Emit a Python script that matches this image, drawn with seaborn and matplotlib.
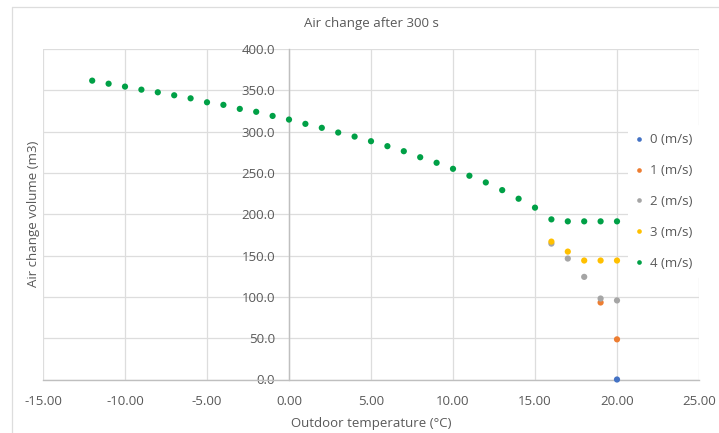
import matplotlib
matplotlib.use("Agg")
import matplotlib.pyplot as plt
from matplotlib.lines import Line2D
import numpy as np
import pandas as pd
import seaborn as sns

# ---- data ----
series_names = ["0 (m/s)", "1 (m/s)", "2 (m/s)", "3 (m/s)", "4 (m/s)"]

temp_0 = [20]
vol_0 = [0.0]

temp_1 = [19, 20]
vol_1 = [93.2, 48.6]

temp_2 = [16, 17, 18, 19, 20]
vol_2 = [164.5, 146.4, 124.2, 98.0, 95.7]

temp_3 = [16, 17, 18, 19, 20]
vol_3 = [166.9, 154.8, 144.0, 144.0, 144.0]

temp_4 = [-12, -11, -10, -9, -8, -7, -6, -5, -4, -3, -2, -1, 0, 1, 2, 3, 4,
          5, 6, 7, 8, 9, 10, 11, 12, 13, 14, 15, 16, 17, 18, 19, 20]
vol_4 = [361.7, 358.0, 354.5, 350.8, 347.6, 344.0, 340.3, 335.5, 332.4, 327.5,
         324.0, 319.0, 314.6, 309.4, 304.6, 298.9, 294.0, 288.4, 282.4, 276.3,
         269.0, 262.3, 255.0, 246.6, 238.5, 229.2, 218.8, 208.0, 193.8, 191.4,
         191.4, 191.4, 191.4]

x_ticks = [-15, -10, -5, 0, 5, 10, 15, 20, 25]
y_ticks = [0, 50, 100, 150, 200, 250, 300, 350, 400]

colors = ["#4472C4", "#ED7D31", "#A5A5A5", "#FFC000", "#00A046"]

frames = []
for name, t, v in zip(series_names,
                      [temp_0, temp_1, temp_2, temp_3, temp_4],
                      [vol_0, vol_1, vol_2, vol_3, vol_4]):
    frames.append(pd.DataFrame({"temp": t, "vol": v, "series": name}))
df = pd.concat(frames, ignore_index=True)

# ---- style ----
sns.set_style("white")
plt.rcParams["font.family"] = ["Open Sans", "DejaVu Sans"]
text_color = "#595959"
grid_color = "#DDDDDD"
axis_color = "#BFBFBF"
fs = 9.5

W, H = 719, 433
fig = plt.figure(figsize=(W / 100, H / 100), dpi=100)
left_px, right_px, top_px, bot_px = 43, 699, 49, 379.5
ax = fig.add_axes([left_px / W, (H - bot_px) / H,
                   (right_px - left_px) / W, (bot_px - top_px) / H])

sns.scatterplot(data=df, x="temp", y="vol", hue="series",
                hue_order=series_names, palette=dict(zip(series_names, colors)),
                s=20, linewidth=0, ax=ax, zorder=3, clip_on=False)

ax.set_xlim(-15, 25)
ax.set_ylim(0, 400)
ax.set_xticks(x_ticks)
ax.set_yticks(y_ticks)
ax.set_xticklabels([f"{v:.2f}" for v in x_ticks])
ax.set_yticklabels([f"{v:.1f}" for v in y_ticks])
ax.grid(True, color=grid_color, linewidth=0.9, zorder=0)
ax.set_axisbelow(True)

for s in ["top", "right"]:
    ax.spines[s].set_visible(False)
ax.spines["left"].set_position(("data", 0))
ax.spines["left"].set_color(axis_color)
ax.spines["bottom"].set_color(axis_color)
ax.spines["left"].set_linewidth(1.0)
ax.spines["bottom"].set_linewidth(1.0)

ax.tick_params(axis="both", length=0, labelsize=fs, labelcolor=text_color)
ax.tick_params(axis="y", pad=10)
ax.tick_params(axis="x", pad=11)

ax.set_xlabel("Outdoor temperature (°C)", fontsize=fs, color=text_color, va="center")
ax.xaxis.set_label_coords(0.5, (bot_px - 423) / (bot_px - top_px))
ax.set_ylabel("Air change volume (m3)", fontsize=fs, color=text_color, va="center")
ax.yaxis.set_label_coords((34 - left_px) / (right_px - left_px), 0.5)
ax.set_title("Air change after 300 s", fontsize=fs, color=text_color,
             y=1 + (top_px - 23) / (bot_px - top_px), va="center", pad=0)

handles, labels = ax.get_legend_handles_labels()
leg = ax.legend(handles, labels, loc="center left",
                bbox_to_anchor=(628 / W, (H - 201.5) / H),
                bbox_transform=fig.transFigure, frameon=True,
                facecolor="white", edgecolor="none", framealpha=1,
                fontsize=fs, labelspacing=1.35, handlelength=0.5,
                handletextpad=0.6, borderaxespad=0, borderpad=0.6,
                markerscale=0.75)
for t in leg.get_texts():
    t.set_color(text_color)
leg.set_zorder(5)

# faint chart-area border
fig.add_artist(Line2D([12 / W, 12 / W], [0, 1 - 7 / H], color=grid_color,
                      linewidth=0.9, transform=fig.transFigure))
fig.add_artist(Line2D([12 / W, 1], [1 - 7 / H, 1 - 7 / H], color=grid_color,
                      linewidth=0.9, transform=fig.transFigure))

fig.savefig("out.png", dpi=100)
